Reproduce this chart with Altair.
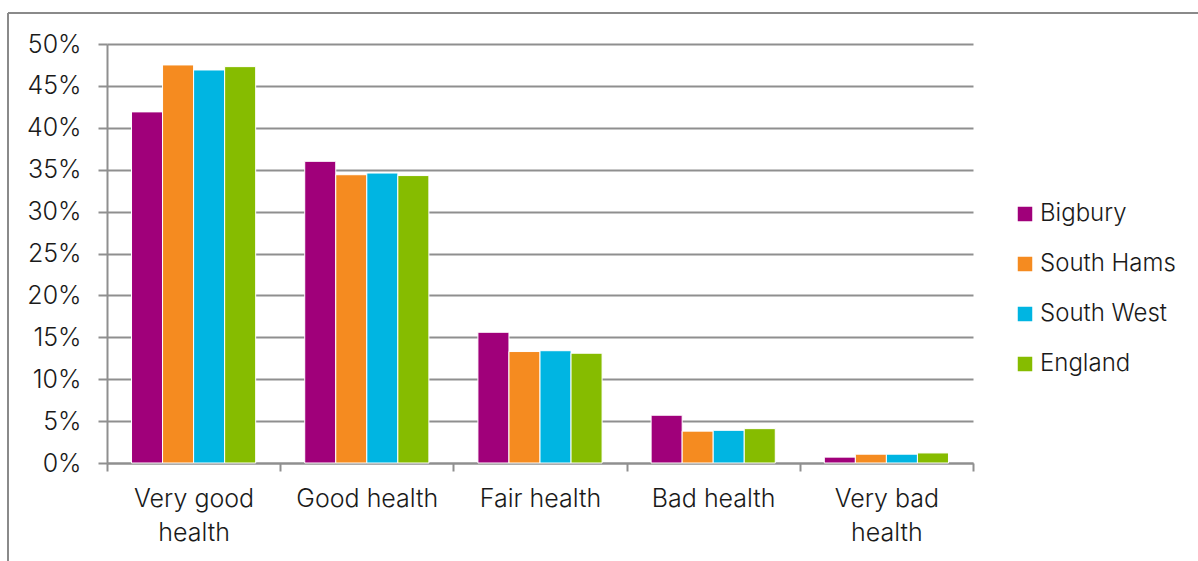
import altair as alt
import pandas as pd

# Self-reported general health, share of residents by area
categories = ["Very good health", "Good health", "Fair health", "Bad health", "Very bad health"]
areas = ["Bigbury", "South Hams", "South West", "England"]
colors = ["#A0007A", "#F58B20", "#00B5E2", "#86BC00"]

bigbury = [41.9, 36.0, 15.6, 5.7, 0.7]
south_hams = [47.5, 34.4, 13.3, 3.8, 1.05]
south_west = [46.9, 34.6, 13.4, 3.9, 1.05]
england = [47.3, 34.3, 13.1, 4.1, 1.2]

series = {"Bigbury": bigbury, "South Hams": south_hams,
          "South West": south_west, "England": england}

rows = []
for area, vals in series.items():
    for cat, v in zip(categories, vals):
        rows.append({"category": cat, "area": area, "value": v / 100.0})
df = pd.DataFrame(rows)

FONT = "Inter"
GRID = "#8f8f8f"
TEXT = "#1a1a1a"

label_expr = (
    "datum.value == 'Very good health' ? ['Very good', 'health'] : "
    "datum.value == 'Very bad health' ? ['Very bad', 'health'] : datum.label"
)

bars = alt.Chart(df).mark_bar(stroke="white", strokeWidth=1).encode(
    x=alt.X(
        "category:N",
        sort=categories,
        title=None,
        scale=alt.Scale(paddingInner=0, paddingOuter=0),
        axis=alt.Axis(
            labelAngle=0,
            tickBand="extent",
            tickSize=8,
            tickColor=GRID,
            tickWidth=2,
            domainColor=GRID,
            domainWidth=2,
            labelFont=FONT,
            labelFontSize=25,
            labelFontWeight=300,
            labelColor=TEXT,
            labelPadding=15,
            labelLineHeight=34,
            labelBaseline="top",
            labelExpr=label_expr,
            grid=False,
        ),
    ),
    xOffset=alt.XOffset(
        "area:N", sort=areas,
        scale=alt.Scale(paddingInner=0, paddingOuter=0.79),
    ),
    y=alt.Y(
        "value:Q",
        title=None,
        scale=alt.Scale(domain=[0, 0.5], nice=False),
        axis=alt.Axis(
            format=".0%",
            values=[i * 0.05 for i in range(11)],
            tickSize=9,
            tickColor=GRID,
            tickWidth=2,
            domainColor=GRID,
            domainWidth=2,
            gridColor=GRID,
            gridWidth=2,
            labelFont=FONT,
            labelFontSize=25,
            labelFontWeight=300,
            labelColor=TEXT,
            labelPadding=17,
        ),
    ),
    color=alt.Color(
        "area:N",
        sort=areas,
        scale=alt.Scale(domain=areas, range=colors),
        legend=alt.Legend(
            title=None,
            orient="none",
            legendX=906,
            legendY=158,
            symbolType="square",
            symbolSize=210,
            symbolStrokeWidth=0,
            labelFont=FONT,
            labelFontSize=24,
            labelFontWeight=300,
            labelColor=TEXT,
            labelOffset=3,
            rowPadding=26,
            labelLimit=300,
        ),
    ),
)

# Chart-area frame: top and left edges
frame_top = alt.Chart(df).mark_rule(color="#8a8a8a", strokeWidth=2).encode(
    x=alt.value(-99), x2=alt.value(1200), y=alt.value(-31)
)
frame_left = alt.Chart(df).mark_rule(color="#8a8a8a", strokeWidth=2).encode(
    x=alt.value(-99), y=alt.value(-31), y2=alt.value(600)
)

chart = alt.layer(bars, frame_top, frame_left).properties(
    width=866,
    height=419,
    padding={"left": 107, "top": 44, "right": 225, "bottom": 98},
    autosize=alt.AutoSizeParams(type="none"),
    background="white",
).configure_view(stroke=None)

chart.save("out.html", embed_options={"renderer": "svg", "actions": False})
